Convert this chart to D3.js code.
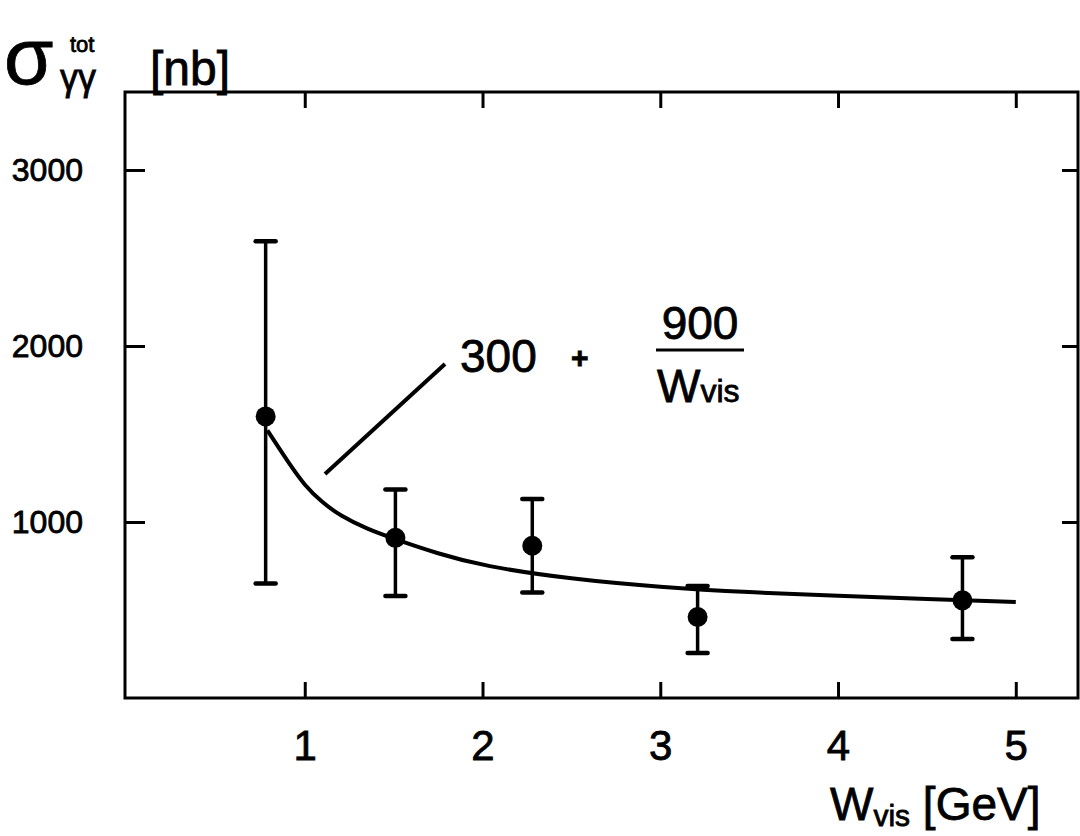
<!DOCTYPE html>
<html>
<head>
<meta charset="utf-8">
<script src="https://cdn.jsdelivr.net/npm/d3@7"></script>
<style>
  body { margin: 0; background: #fff; }
  svg { display: block; }
  text { font-family: "Liberation Sans", Arial, sans-serif; fill: #000; stroke: #000; stroke-width: 0.8px; }
</style>
</head>
<body>
<script>
// Data
const wVis = [0.78, 1.51, 2.28, 3.21, 4.70];
const sigma = [1600, 910, 865, 460, 555];
const errLow = [650, 580, 600, 255, 335];
const errHigh = [2595, 1185, 1130, 636, 800];

// fitted curve 300 + 900/W
const curveW = [0.79, 0.9, 1.0, 1.1, 1.2, 1.35, 1.5, 1.75, 2.0, 2.5, 3.0, 3.5, 4.0, 4.5, 5.0];
const curveS = [1520, 1350, 1205, 1110, 1035, 960, 905, 820, 750, 675, 630, 600, 580, 562, 545];

const xTicks = [1, 2, 3, 4, 5];
const yTicks = [1000, 2000, 3000];

const width = 1080;
const height = 836;
const frame = { left: 125, right: 1078, top: 92, bottom: 698 };

const svg = d3.select("body")
  .append("svg")
  .attr("width", width)
  .attr("height", height);

const x = d3.scaleLinear().domain([0, 5.35]).range([127, 1078]);
const y = d3.scaleLinear().domain([0, 3443]).range([698, 92]);

// frame
svg.append("rect")
  .attr("x", frame.left)
  .attr("y", frame.top)
  .attr("width", frame.right - frame.left)
  .attr("height", frame.bottom - frame.top)
  .attr("fill", "none")
  .attr("stroke", "#000")
  .attr("stroke-width", 3);

// axes with inward ticks
function styleAxis(g) {
  g.select(".domain").remove();
  g.selectAll(".tick line").attr("stroke", "#000").attr("stroke-width", 3);
}

svg.append("g")
  .attr("transform", `translate(0,${frame.bottom})`)
  .call(d3.axisBottom(x).tickValues(xTicks).tickSize(-16).tickPadding(32).tickFormat(d3.format("d")))
  .call(styleAxis)
  .call(g => g.selectAll("text")
    .attr("font-family", "Liberation Sans, Arial, sans-serif")
    .attr("font-size", 42).attr("fill", "#000"));

svg.append("g")
  .attr("transform", `translate(0,${frame.top})`)
  .call(d3.axisTop(x).tickValues(xTicks).tickSize(-16).tickFormat(""))
  .call(styleAxis);

svg.append("g")
  .attr("transform", `translate(${frame.left},0)`)
  .call(d3.axisLeft(y).tickValues(yTicks).tickSize(-20).tickPadding(42).tickFormat(d3.format("d")))
  .call(styleAxis)
  .call(g => g.selectAll("text")
    .attr("font-family", "Liberation Sans, Arial, sans-serif")
    .attr("font-size", 32).attr("fill", "#000"));

svg.append("g")
  .attr("transform", `translate(${frame.right},0)`)
  .call(d3.axisRight(y).tickValues(yTicks).tickSize(-16).tickFormat(""))
  .call(styleAxis);

// fitted curve
const line = d3.line()
  .x(d => x(d[0]))
  .y(d => y(d[1]))
  .curve(d3.curveBasis);

svg.append("path")
  .datum(curveW.map((w, i) => [w, curveS[i]]))
  .attr("fill", "none")
  .attr("stroke", "#000")
  .attr("stroke-width", 4)
  .attr("d", line);

// error bars
const pts = wVis.map((w, i) => ({ w, s: sigma[i], lo: errLow[i], hi: errHigh[i] }));

const bars = svg.append("g").attr("stroke", "#000");
bars.selectAll(".err")
  .data(pts)
  .enter()
  .append("line")
  .attr("x1", d => x(d.w))
  .attr("x2", d => x(d.w))
  .attr("y1", d => y(d.lo))
  .attr("y2", d => y(d.hi))
  .attr("stroke-width", 3.5);

bars.selectAll(".capHi")
  .data(pts)
  .enter()
  .append("line")
  .attr("x1", d => x(d.w) - 10)
  .attr("x2", d => x(d.w) + 10)
  .attr("y1", d => y(d.hi))
  .attr("y2", d => y(d.hi))
  .attr("stroke-width", 4.5)
  .attr("stroke-linecap", "round");

bars.selectAll(".capLo")
  .data(pts)
  .enter()
  .append("line")
  .attr("x1", d => x(d.w) - 10)
  .attr("x2", d => x(d.w) + 10)
  .attr("y1", d => y(d.lo))
  .attr("y2", d => y(d.lo))
  .attr("stroke-width", 4.5)
  .attr("stroke-linecap", "round");

svg.selectAll("circle")
  .data(pts)
  .enter()
  .append("circle")
  .attr("cx", d => x(d.w))
  .attr("cy", d => y(d.s))
  .attr("r", 10)
  .attr("fill", "#000");

// y-axis title
svg.append("text").attr("x", 4).attr("y", 84).attr("font-size", 80).text("σ");
svg.append("text").attr("x", 70).attr("y", 52).attr("font-size", 22).text("tot");
svg.append("text").attr("x", 60).attr("y", 90).attr("font-size", 36).text("γγ");
svg.append("text").attr("x", 150).attr("y", 85).attr("font-size", 48).text("[nb]");

// x-axis title
const xt = svg.append("text").attr("x", 830).attr("y", 820);
xt.append("tspan").attr("font-size", 46).text("W");
xt.append("tspan").attr("font-size", 30).attr("dy", 6).text("vis");
xt.append("tspan").attr("font-size", 46).attr("dy", -6).text(" [GeV]");

// annotation
svg.append("line")
  .attr("x1", 325).attr("y1", 474)
  .attr("x2", 445).attr("y2", 364)
  .attr("stroke", "#000")
  .attr("stroke-width", 4);

svg.append("text").attr("x", 460).attr("y", 372).attr("font-size", 46).text("300");
svg.append("text").attr("x", 571).attr("y", 368).attr("font-size", 30).attr("font-weight", "bold").text("+");
svg.append("text").attr("x", 700).attr("y", 339).attr("font-size", 46)
  .attr("text-anchor", "middle").text("900");
svg.append("line")
  .attr("x1", 656).attr("x2", 744)
  .attr("y1", 350).attr("y2", 350)
  .attr("stroke", "#000")
  .attr("stroke-width", 3);
const wv = svg.append("text").attr("x", 657).attr("y", 402);
wv.append("tspan").attr("font-size", 46).text("W");
wv.append("tspan").attr("font-size", 32).text("vis");
</script>
</body>
</html>
